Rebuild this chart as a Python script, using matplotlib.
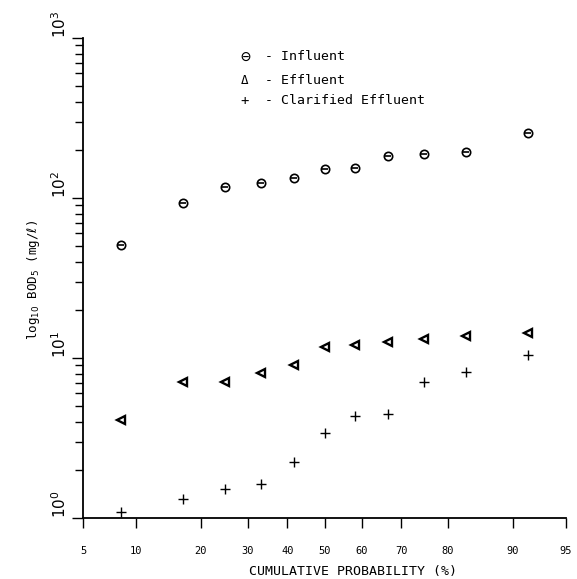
import numpy as np
import matplotlib
matplotlib.use("Agg")
import matplotlib.pyplot as plt
from matplotlib.ticker import NullFormatter, LogLocator
from statistics import NormalDist

# cumulative probability (%) of each ranked sample
prob = [8.3, 16.7, 25.0, 33.3, 41.7, 50.0, 58.3, 66.7, 75.0, 83.3, 91.7]
# BOD5 (mg/l)
influent = [51, 93, 117, 124, 133, 151, 153, 184, 188, 195, 254]
effluent = [4.1, 7.05, 7.1, 8.1, 9.1, 11.7, 12.1, 12.6, 13.1, 13.7, 14.3]
clarified = [1.09, 1.31, 1.52, 1.63, 2.25, 3.38, 4.34, 4.45, 7.05, 8.2, 10.5]

xticks = [5, 10, 20, 30, 40, 50, 60, 70, 80, 90, 95]
yticks = [1, 10, 100, 1000]
ylabels = [r'$10^{0}$', r'$10^{1}$', r'$10^{2}$', r'$10^{3}$']

nd = NormalDist()
_ppf = np.vectorize(nd.inv_cdf, otypes=[float])
_cdf = np.vectorize(nd.cdf, otypes=[float])


def prob_fwd(p):
    p = np.clip(np.asarray(p, dtype=float) / 100.0, 1e-6, 1 - 1e-6)
    return _ppf(p)


def prob_inv(z):
    return _cdf(np.asarray(z, dtype=float)) * 100.0


mono = ['DejaVu Sans Mono', 'DejaVu Sans']

fig = plt.figure(figsize=(5.77, 5.79), dpi=100)
ax = fig.add_axes([83 / 577, 1 - 518 / 579, (566 - 83) / 577, (518 - 38) / 579])

ax.set_xscale('function', functions=(prob_fwd, prob_inv))
ax.set_yscale('log')

# influent: circle with a bar
ax.plot(prob, influent, 'o', ms=6, mfc='none', mec='black', mew=1.2)
ax.plot(prob, influent, '_', ms=4.5, color='black', mew=1.2)
# effluent
ax.plot(prob, effluent, '<', ms=5.5, mfc='none', mec='black', mew=1.7)
# clarified effluent
ax.plot(prob, clarified, '+', ms=7.5, color='black', mew=1.0)

ax.set_xlim(5, 95)
ax.set_ylim(1, 1000)

ax.set_xticks(xticks)
ax.set_xticklabels([str(t) for t in xticks], family=mono, fontsize=7.5)
ax.xaxis.set_minor_formatter(NullFormatter())
ax.tick_params(axis='x', which='minor', length=0)

ax.set_yticks(yticks)
ax.set_yticklabels(ylabels, fontsize=11)
ax.yaxis.set_minor_locator(LogLocator(base=10, subs=np.arange(2, 10)))
ax.yaxis.set_minor_formatter(NullFormatter())
for lbl in ax.get_yticklabels():
    lbl.set_rotation(90)
    lbl.set_va('bottom')

ax.tick_params(axis='x', which='major', direction='out', length=7, width=1.0, pad=13)
ax.tick_params(axis='y', which='major', direction='out', length=8, width=1.0, pad=2)
ax.tick_params(axis='y', which='minor', direction='out', length=6, width=1.0)

for s in ['top', 'right']:
    ax.spines[s].set_visible(False)
for s in ['left', 'bottom']:
    ax.spines[s].set_linewidth(1.3)

fig.text(353 / 577, 1 - 572 / 579, 'CUMULATIVE PROBABILITY (%)', family=mono,
         fontsize=9.5, ha='center', va='center')
fig.text(34 / 577, 1 - 280 / 579, r'log$_{10}$ BOD$_5$ (mg/$\ell$)', family=mono,
         fontsize=9, ha='center', va='center', rotation=90)

# text legend as in the original
leg_marks = ['\u2296', '\u0394', '+']
leg_names = ['- Influent', '- Effluent', '- Clarified Effluent']
leg_y = [57, 80, 101]
leg_size = [12, 9, 10]
for m, n, yy, fs in zip(leg_marks, leg_names, leg_y, leg_size):
    fig.text(245 / 577, 1 - yy / 579, m, family=mono, fontsize=fs,
             ha='center', va='center')
    fig.text(265 / 577, 1 - yy / 579, n, family=mono, fontsize=9.5,
             ha='left', va='center')

fig.savefig('out.png', dpi=100)
